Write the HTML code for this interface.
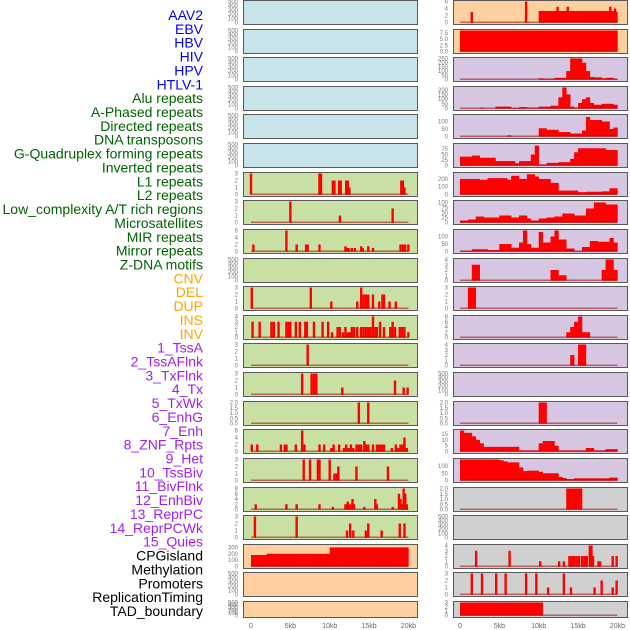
<!DOCTYPE html>
<html><head><meta charset="utf-8"><style>
body{margin:0;background:#fff;width:630px;height:630px;overflow:hidden}
svg{display:block}
</style></head><body>
<svg id="c" width="630" height="630" xmlns="http://www.w3.org/2000/svg"></svg>
<script>
const trackLabels=["AAV2","EBV","HBV","HIV","HPV","HTLV-1","Alu repeats","A-Phased repeats","Directed repeats","DNA transposons","G-Quadruplex forming repeats","Inverted repeats","L1 repeats","L2 repeats","Low_complexity A/T rich regions","Microsatellites","MIR repeats","Mirror repeats","Z-DNA motifs","CNV","DEL","DUP","INS","INV","1_TssA","2_TssAFlnk","3_TxFlnk","4_Tx","5_TxWk","6_EnhG","7_Enh","8_ZNF_Rpts","9_Het","10_TssBiv","11_BivFlnk","12_EnhBiv","13_ReprPC","14_ReprPCWk","15_Quies","CPGisland","Methylation","Promoters","ReplicationTiming","TAD_boundary"];
const labelColors=["#0000ff","#006400","#ffa500","#a020f0","#000000"];
const labelGroups=[6,13,5,15,5];
const xTickKb=[0,5,10,15,20];
const xTickText=["0","5kb","10kb","15kb","20kb"];
const T500=["0","100","200","300","400","500"];
// left column data
const L6_spikes=[[0,3],[8.7,3],[8.9,3],[10.4,2],[10.6,2],[11.2,2],[11.4,2],[12.1,2],[12.3,2],[12.5,1],[19.1,2],[19.3,2],[19.5,1]];
const L7_spikes=[[5.0,3],[11.3,1],[18.0,2]];
const L8_spikes=[[0.3,2],[4.5,6],[5.8,2],[7.0,2],[7.2,2],[8.7,2],[12.0,1.5],[12.2,1],[12.4,1],[12.8,1],[13.2,1],[14.0,1.5],[14.2,1],[14.9,1.5],[15.5,1],[19.0,2],[19.3,2],[19.6,2],[20.0,2]];
const L10_spikes=[[0.1,3],[7.6,3],[10.2,1],[13.5,1],[14.0,3],[14.3,2],[14.6,2],[14.9,2],[15.5,2],[16.3,1],[16.7,2],[16.9,2],[17.6,1],[18.4,1]];
const L11_spikes=[[0.2,3],[1.1,3],[2.6,3],[2.9,3],[3.5,3],[4.5,3],[4.8,3],[5.0,3],[5.7,3],[6.2,3],[6.9,3],[7.1,3],[8.0,3],[9.1,3],[9.8,3],[10.3,1],[11.0,2],[11.3,2],[11.7,1],[12.0,2],[12.3,1],[12.6,1],[12.8,2],[13.1,2],[13.5,2],[14.0,2],[14.3,2],[14.6,2],[14.9,2],[15.2,2],[15.5,4],[15.8,2],[16.0,2],[16.4,3],[16.9,2],[17.7,2],[18.0,3],[18.3,2],[18.9,2],[19.2,2],[19.5,2],[20.0,1]];
const L12_spikes=[[7.2,3]];
const L13_spikes=[[6.5,3],[7.7,3],[8.0,3],[8.3,3],[11.6,1],[18.3,2],[19.4,1],[19.9,1]];
const L14_spikes=[[13.7,2],[14.9,2]];
const L15_spikes=[[0.1,2],[0.8,2],[3.8,2],[4.3,2],[4.5,2],[5.7,2],[6.5,6],[6.8,2],[8.7,2],[9.3,2],[10.2,1],[10.5,2],[11.2,2],[11.8,1],[12.1,2],[12.4,1],[12.7,2],[13.0,1],[13.4,2],[13.7,2],[14.0,2],[14.4,3],[14.6,2],[14.9,2],[15.5,2],[16.0,2],[16.3,2],[16.6,2],[16.9,2],[17.9,1],[18.4,2],[18.7,1],[19.0,2],[19.3,2],[19.5,4],[19.8,1]];
const L16_spikes=[[6.7,3],[7.5,3],[8.5,3],[8.7,3],[10.0,3],[10.6,1],[10.9,1],[11.1,2],[13.4,2],[17.4,2]];
const L17_spikes=[[0.6,2],[4.5,2],[5.8,2],[8.7,2],[10.4,1],[12.0,2],[12.3,3],[12.6,2],[12.9,4],[13.1,2],[14.4,1],[15.8,4],[16.0,2],[18.0,1],[18.8,6],[19.0,4],[19.2,2],[19.4,8],[19.6,6],[19.8,2]];
const L18_spikes=[[0.5,3],[5.8,3],[12.2,1],[12.6,2],[13.0,1],[14.6,1],[14.9,2],[16.6,1],[18.9,2],[19.5,2]];
const L19_bins=[180,180,180,180,200,200,200,200,200,200,200,200,200,200,200,200,200,200,200,200,300,300,300,300,300,300,300,300,300,300,300,300,300,300,300,300,300,300,300,300];
// right column data
const R0_bins=[0,0,0,0,0,0,0,0,0,0,0,0,0,0,0,0,0,0,0,0,3.3,3.3,3.3,3.3,3.3,3.3,3.3,3.3,3.3,3.3,3.3,3.3,3.3,3.3,3.3,3.3,3.3,3.3,3.3,3.1];
const R0_spikes=[[1.5,3],[8.4,6],[12.4,4.5],[13.7,4.5],[19.1,4.5],[19.7,4]];
const R1_bins=[8.5,8.5,8.5,8.5,8.5,8.5,8.5,8.5,8.5,8.5,8.5,8.5,8.5,8.5,8.5,8.5,8.5,8.5,8.5,8.5,8.5,8.5,8.5,8.5,8.5,8.5,8.5,8.5,8.5,8.5,8.5,8.5,8.5,8.5,8.5,8.5,8.5,8.5,8.5,8.5];
const R2_bins=[0,0,0,0,0,0,0,0,0,0,0,0,0,0,0,0,0,0,0,0,15,10,10,10,20,20,20,100,250,250,250,200,100,30,25,25,15,20,20,10];
const R3_bins=[0,0,0,0,0,10,0,0,0,20,20,20,20,5,5,15,15,10,10,10,20,20,20,30,30,120,225,150,20,10,60,100,120,60,40,40,50,50,50,40];
const R4_bins=[0,0,0,0,0,0,0,0,0,0,0,0,8,0,0,0,0,0,0,0,55,55,45,45,45,30,30,30,20,20,20,40,130,110,110,110,100,100,50,60];
const R5_bins=[40,40,40,45,45,35,35,35,35,20,20,20,20,20,10,20,20,20,50,90,5,5,12,12,12,15,15,15,30,60,78,78,78,78,78,78,78,70,70,70];
const R6_bins=[200,200,200,200,200,190,190,210,210,210,210,210,190,240,240,200,200,260,260,230,200,200,200,150,150,50,50,50,50,50,30,30,35,35,35,35,40,40,80,80];
const R7_bins=[10,10,15,15,30,30,25,25,25,25,35,35,35,25,25,35,35,20,10,10,20,20,25,25,30,30,45,45,45,35,35,35,70,70,100,100,100,90,90,90];
const R8_bins=[5,5,5,15,15,15,15,10,10,10,50,50,50,25,25,60,140,50,25,25,130,60,60,100,140,80,80,20,20,5,5,30,30,70,70,65,65,65,90,60];
const R9_bins=[0,0,0,3,3,0,0,0,0,0,0,0,0,0,0,0,0,0,0,0,0,0,0,2,2,1,1,0,0,0,0,0,0,0,0,0,2,4,4,2];
const R10_bins=[0,0,3,3,0,0,0,0,0,0,0,0,0,0,0,0,0,0,0,0,0,0,0,0,0,0,0,0,0,0,0,0,0,0,0,0,0,0,0,0];
const R11_bins=[0,0,0,0,0,0,0,0,0,0,0,0,0,0,0,0,0,0,0,0,0,0,0,0,0,0,0,2,4,6,8,2,2,0,0,0,0,0,0,0];
const R12_bins=[0,0,0,0,0,0,0,0,0,0,0,0,0,0,0,0,0,0,0,0,0,0,0,0,0,0,0,0,2,0,4,4,0,0,0,0,0,0,0,0];
const R14_bins=[0,0,0,0,0,0,0,0,0,0,0,0,0,0,0,0,0,0,0,0,2,2,0,0,0,0,0,0,0,0,0,0,0,0,0,0,0,0,0,0];
const R15_bins=[18,16,16,13,10,7,4,4,4,4,4,4,4,4,4,1,1,1,1,1,7,9,9,9,5,1,1,1,1,1,1,1,3,3,1,1,1,2,2,2];
const R16_bins=[150,150,150,150,150,150,150,150,150,150,140,132,125,125,125,90,65,68,68,68,60,50,50,50,50,25,17,10,10,15,15,15,15,15,15,15,15,15,20,20];
const R17_bins=[0,0,0,0,0,0,0,0,0,0,0,0,0,0,0,0,0,0,0,0,0,0,0,0,0,0,0,2,2,2,2,0,0,0,0,0,0,0,0,0];
const R19_spikes=[[2.05,3],[6.3,3],[10.2,1],[12.6,1],[13.2,1],[13.9,2],[14.2,2],[14.5,2],[14.8,2],[15.1,2],[15.5,2],[15.8,2],[16.1,2],[16.5,4],[16.7,4],[16.9,2],[17.6,1],[17.8,1],[19.4,2],[19.9,2]];
const R20_spikes=[[1.5,3],[2.8,3],[4.6,3],[5.8,3],[8.4,3],[9.7,3],[11.2,1],[13.2,3],[14.1,1],[17.1,1],[18.0,2],[19.4,1],[19.9,2]];
const R21_bins=[3,3,3,3,3,3,3,3,3,3,3,3,3,3,3,3,3,3,3,3,3,0,0,0,0,0,0,0,0,0,0,0,0,0,0,0,0,0,0,0];

const BG={blue:"#c8e4eb",green:"#c8e0a3",orange:"#fed09f",purple:"#d6c6e2",gray:"#d0d0d0"};
const panels=[
 [0,0,"blue",500,T500,null,null],[0,1,"blue",500,T500,null,null],[0,2,"blue",500,T500,null,null],[0,3,"blue",500,T500,null,null],[0,4,"blue",500,T500,null,null],[0,5,"blue",500,T500,null,null],
 [0,6,"green",3,["0","1","2","3"],null,L6_spikes],[0,7,"green",3,["0","1","2","3"],null,L7_spikes],[0,8,"green",6,["0","2","4","6"],null,L8_spikes],[0,9,"green",500,T500,null,null],
 [0,10,"green",3,["0","1","2","3"],null,L10_spikes],[0,11,"green",4,["0","1","2","3","4"],null,L11_spikes],[0,12,"green",3,["0","1","2","3"],null,L12_spikes],[0,13,"green",3,["0","1","2","3"],null,L13_spikes],
 [0,14,"green",2,["0.0","0.5","1.0","1.5","2.0"],null,L14_spikes],[0,15,"green",6,["0","2","4","6"],null,L15_spikes],[0,16,"green",3,["0","1","2","3"],null,L16_spikes],[0,17,"green",8,["0","2","4","6","8"],null,L17_spikes],
 [0,18,"green",3,["0","1","2","3"],null,L18_spikes],[0,19,"orange",330,["0","100","200","300"],L19_bins,null],[0,20,"orange",500,T500,null,null],[0,21,"orange",500,T500,null,null],
 [1,0,"orange",6,["0","2","4","6"],R0_bins,R0_spikes],[1,1,"orange",8.5,["0.0","2.5","5.0","7.5"],R1_bins,null],[1,2,"purple",250,["0","50","100","150","200","250"],R2_bins,null],
 [1,3,"purple",225,["0","50","100","150","200"],R3_bins,null],[1,4,"purple",140,["0","50","100"],R4_bins,null],[1,5,"purple",95,["0","25","50","75"],R5_bins,null],
 [1,6,"purple",270,["0","100","200"],R6_bins,null],[1,7,"purple",105,["0","25","50","75","100"],R7_bins,null],[1,8,"purple",140,["0","50","100"],R8_bins,null],
 [1,9,"purple",4,["0","1","2","3","4"],R9_bins,null],[1,10,"purple",3,["0","1","2","3"],R10_bins,null],[1,11,"purple",8,["0","2","4","6","8"],R11_bins,null],
 [1,12,"purple",4,["0","1","2","3","4"],R12_bins,null],[1,13,"purple",500,T500,null,null],[1,14,"purple",2,["0.0","0.5","1.0","1.5","2.0"],R14_bins,null],
 [1,15,"purple",18,["0","5","10","15"],R15_bins,null],[1,16,"purple",145,["0","50","100"],R16_bins,null],[1,17,"gray",2,["0.0","0.5","1.0","1.5","2.0"],R17_bins,null],
 [1,18,"gray",500,T500,null,null],[1,19,"gray",4,["0","1","2","3","4"],null,R19_spikes],[1,20,"gray",3,["0","1","2","3"],null,R20_spikes],[1,21,"gray",3,["0","1","2","3"],R21_bins,null]
];

const svg=document.getElementById('c');
const NS="http://www.w3.org/2000/svg";
function mk(tag,attrs,parent){const e=document.createElementNS(NS,tag);for(const k in attrs)e.setAttribute(k,attrs[k]);(parent||svg).appendChild(e);return e;}
const PXKB=7.87;
function xScale(col,kb){return (col?460:251)+kb*PXKB;}
function rowTop(r){return Math.round(r*28.62);}
function rowH(r){return r===21?16:24;}

// labels
let li=0;
labelGroups.forEach((n,g)=>{for(let k=0;k<n;k++){const t=mk('text',{x:203,y:20+li*13.86,'text-anchor':'end','font-family':'Liberation Sans, sans-serif','font-size':'14',fill:labelColors[g]});


t.textContent=trackLabels[li];li++;}});

panels.forEach(p=>{
 const [col,row,bg,ymax,ticks,bins,spikes]=p;
 const px=col?453:243, top=rowTop(row), h=rowH(row), w=174;
 const g=mk('g',{});
 
 
 mk('rect',{x:px+0.5,y:top+0.5,width:w,height:h,fill:BG[bg],stroke:'#5a5a5a','stroke-width':1},g);
 const y0=top+h-1.5, ih=h-3;
 const yS=v=>y0-Math.min(v,ymax)/ymax*ih;
 ticks.forEach(s=>{const v=parseFloat(s);const t=mk('text',{x:px-5,y:yS(v)+2,'text-anchor':'end','font-family':'Liberation Sans, sans-serif','font-size':'6',fill:'#777'},g);
  
  
  t.textContent=s;});
 if(bins){bins.forEach((v,i)=>{if(v>0){const r=mk('rect',{x:xScale(col,i*0.5),y:yS(v),width:0.5*PXKB+0.3,height:y0-yS(v),fill:'#ff0000'},g);
  
  }});}
 if(spikes){spikes.forEach(s=>{const r=mk('rect',{x:xScale(col,s[0])-1.2,y:yS(s[1]),width:2.4,height:y0-yS(s[1]),fill:'#ff0000'},g);
  
  });}
 if(bins||spikes){mk('rect',{x:xScale(col,0),y:y0-1,width:20*PXKB,height:1.5,fill:'rgba(170,0,0,0.55)'},g);}
});

[0,1].forEach(col=>{xTickKb.forEach((kb,i)=>{const t=mk('text',{x:xScale(col,kb),y:628,'text-anchor':'middle','font-family':'Liberation Sans, sans-serif','font-size':'7',fill:'#666'});
 
 
 t.textContent=xTickText[i];});});
</script>
</body></html>
